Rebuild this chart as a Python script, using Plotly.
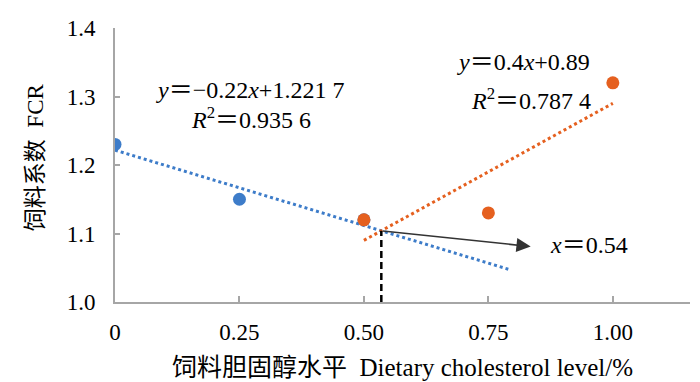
import numpy as np
import plotly.graph_objects as go

# Data
low_x = [0, 0.25, 0.50]          # blue group (dietary cholesterol %)
low_y = [1.23, 1.15, 1.12]       # FCR
high_x = [0.50, 0.75, 1.00]      # orange group
high_y = [1.12, 1.13, 1.32]
low_fit_span = [0, 0.79]
high_fit_span = [0.50, 1.00]
x_ticks = [0, 0.25, 0.50, 0.75, 1.00]
x_tick_labels = ["0", "0.25", "0.50", "0.75", "1.00"]
y_ticks = [1.0, 1.1, 1.2, 1.3, 1.4]
y_tick_labels = ["1.0", "1.1", "1.2", "1.3", "1.4"]
eq_low = ["<i>y</i>＝−0.22<i>x</i>+1.221 7", "<i>R</i><sup>2</sup>＝0.935 6"]
eq_high = ["<i>y</i>＝0.4<i>x</i>+0.89", "<i>R</i><sup>2</sup>＝0.787 4"]
cross_label = "<i>x</i>＝0.54"
x_title = "饲料胆固醇水平  Dietary cholesterol level/%"
y_title = "饲料系数  FCR"
arrow_tip = [0.835, 1.081]

BLUE = "#3D7CC9"
ORANGE = "#E5601F"
SERIF = "Liberation Serif, Noto Sans CJK SC, serif"

k1, b1 = np.polyfit(low_x, low_y, 1)
k2, b2 = np.polyfit(high_x, high_y, 1)
xc = (b1 - b2) / (k2 - k1)
yc = k1 * xc + b1

fig = go.Figure()
fx1 = np.array(low_fit_span)
fx2 = np.array(high_fit_span)
fig.add_trace(go.Scatter(x=fx1, y=k1 * fx1 + b1, mode="lines",
                         line=dict(color=BLUE, width=3, dash="3px,3px"), hoverinfo="skip"))
fig.add_trace(go.Scatter(x=fx2, y=k2 * fx2 + b2, mode="lines",
                         line=dict(color=ORANGE, width=3, dash="3px,3px"), hoverinfo="skip"))
fig.add_trace(go.Scatter(x=[xc, xc], y=[1.0, yc], mode="lines",
                         line=dict(color="black", width=2.5, dash="7px,4px"), hoverinfo="skip"))
fig.add_trace(go.Scatter(x=low_x, y=low_y, mode="markers",
                         marker=dict(color=BLUE, size=13)))
fig.add_trace(go.Scatter(x=high_x, y=high_y, mode="markers",
                         marker=dict(color=ORANGE, size=13)))

fig.add_annotation(x=arrow_tip[0], y=arrow_tip[1], ax=xc, ay=yc, xref="x", yref="y",
                   axref="x", ayref="y", text="", showarrow=True, arrowhead=2,
                   arrowsize=1.9, arrowwidth=1.5, arrowcolor="#333333")
fig.add_annotation(x=0.87, y=1.083, xref="x", yref="y", text=cross_label, showarrow=False,
                   xanchor="left", font=dict(family=SERIF, size=24, color="black"))

fig.add_annotation(x=0.272, y=1.310, xref="x", yref="y", text=eq_low[0], showarrow=False,
                   font=dict(family=SERIF, size=24, color="black"))
fig.add_annotation(x=0.273, y=1.268, xref="x", yref="y", text=eq_low[1], showarrow=False,
                   font=dict(family=SERIF, size=24, color="black"))
fig.add_annotation(x=0.821, y=1.351, xref="x", yref="y", text=eq_high[0], showarrow=False,
                   font=dict(family=SERIF, size=24, color="black"))
fig.add_annotation(x=0.835, y=1.296, xref="x", yref="y", text=eq_high[1], showarrow=False,
                   font=dict(family=SERIF, size=24, color="black"))

fig.add_annotation(x=-0.139, y=0.529, xref="paper", yref="paper", text=y_title,
                   textangle=-90, showarrow=False, xanchor="center", yanchor="middle",
                   font=dict(family=SERIF, size=23, color="black"))

fig.update_layout(
    width=692, height=374,
    margin=dict(l=107, r=10, t=20, b=80, autoexpand=False),
    paper_bgcolor="white", plot_bgcolor="white",
    showlegend=False,
    font=dict(family=SERIF, color="black"),
    xaxis=dict(range=[0, 1.155], tickvals=x_ticks, ticktext=x_tick_labels,
               automargin=False,
               showgrid=False, zeroline=False, showline=True, linecolor="#A6A6A6",
               linewidth=2, ticks="inside", ticklen=6, tickcolor="#A6A6A6", tickwidth=2,
               ticklabelstandoff=8,
               tickfont=dict(family=SERIF, size=23, color="black"),
               title=dict(text=x_title,
                          font=dict(family=SERIF, size=25, color="black"), standoff=15)),
    yaxis=dict(range=[1.0, 1.4], tickvals=y_ticks, ticktext=y_tick_labels,
               automargin=False,
               showgrid=False, zeroline=False, showline=True, linecolor="#A6A6A6",
               linewidth=2, ticks="inside", ticklen=5, tickcolor="#A6A6A6", tickwidth=2,
               ticklabelstandoff=13,
               tickfont=dict(family=SERIF, size=23, color="black")),
)

fig.write_html("out.html")
